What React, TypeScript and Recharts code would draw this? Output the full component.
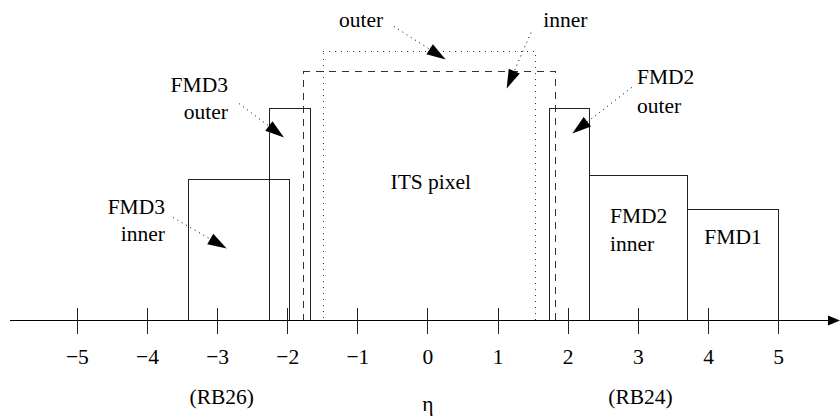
import React from "react"
import { ComposedChart, XAxis, YAxis, ReferenceArea, ReferenceLine, ReferenceDot } from "recharts"

// pseudorapidity ticks
const TICKS = [-5, -4, -3, -2, -1, 0, 1, 2, 3, 4, 5]

// detector acceptance in eta; LEVEL is only the drawing height of each box
const DETECTORS = ["FMD3 inner", "FMD3 outer", "ITS outer", "ITS inner", "FMD2 outer", "FMD2 inner", "FMD1"]
const ETA_MIN = [-3.41, -2.26, -1.49, -1.78, 1.73, 2.31, 3.7]
const ETA_MAX = [-1.97, -1.68, 1.54, 1.825, 2.31, 3.7, 5.0]
const LEVEL = [141, 212, 269, 249, 212, 145, 111]

// annotation text, anchored in (eta, level)
const NOTE_TEXT = ["outer", "inner", "FMD3", "outer", "FMD3", "inner", "FMD2", "outer", "FMD2", "inner", "FMD1", "ITS pixel", "(RB26)", "η", "(RB24)"]
const NOTE_ETA = [-0.955, 1.96, -2.852, -2.852, -3.75, -3.75, 2.98, 2.98, 2.595, 2.595, 4.35, 0.04, -2.94, 0, 3.03]
const NOTE_LEVEL = [294, 294, 229, 202, 107, 80, 237, 208, 98, 70, 77, 132, -83, -90, -83]

// dotted pointer arrows
const ARROW_FROM_ETA = [-0.485, 1.469, -2.695, -3.636, 2.905]
const ARROW_FROM_LEVEL = [294, 288, 217, 103, 233]
const ARROW_TO_ETA = [0.252, 1.122, -2.053, -2.87, 2.058]
const ARROW_TO_LEVEL = [261, 232, 183, 72, 187]

const FONT = "'Liberation Serif', 'DejaVu Serif', serif"

const DASH: Record<string, string | undefined> = {
  "ITS outer": "1 5",
  "ITS inner": "7 6",
}

const ANCHOR: Record<number, "start" | "middle" | "end"> = {
  2: "end", 3: "end", 4: "end", 5: "end",
  6: "start", 7: "start", 8: "start", 9: "start",
}

function Arrow(props: any) {
  const { x1, y1, x2, y2, dotted, len = 19, half = 6 } = props
  const dx = x2 - x1
  const dy = y2 - y1
  const d = Math.hypot(dx, dy) || 1
  const ux = dx / d
  const uy = dy / d
  const bx = x2 - ux * len
  const by = y2 - uy * len
  const pts = `${x2},${y2} ${bx - uy * half},${by + ux * half} ${bx + uy * half},${by - ux * half}`
  return (
    <g>
      <line x1={x1} y1={y1} x2={bx} y2={by} stroke="#000" strokeWidth={1} strokeDasharray={dotted ? "1 4" : undefined} />
      <polygon points={pts} fill="#000" />
    </g>
  )
}

function renderTick(p: any) {
  const v = p.payload.value
  const label = v < 0 ? `\u2212${Math.abs(v)}` : `${v}`
  return (
    <g>
      <line x1={p.x} x2={p.x} y1={p.y - 13} y2={p.y + 13} stroke="#222" strokeWidth={1} shapeRendering="crispEdges" />
      <text x={p.x} y={p.y + 43} textAnchor="middle" fontFamily={FONT} fontSize={21.5} fill="#000">
        {label}
      </text>
    </g>
  )
}

export default function App() {
  const data = TICKS.map((t) => ({ eta: t }))
  return (
    <div style={{ position: "absolute", left: 0, top: 0, width: 840, height: 417, background: "#fff" }}>
      <ComposedChart width={840} height={417} data={data} margin={{ top: 20.5, right: 0, bottom: 0, left: 10 }}>
        <XAxis
          dataKey="eta"
          type="number"
          domain={[-5.96, 5.875]}
          ticks={TICKS}
          interval={0}
          height={96.5}
          axisLine={false}
          tickLine={false}
          tickSize={0}
          tickMargin={0}
          tick={renderTick}
          allowDataOverflow
        />
        <YAxis hide type="number" domain={[0, 300]} allowDataOverflow />

        {DETECTORS.map((name, i) => (
          <ReferenceArea
            key={name}
            x1={ETA_MIN[i]}
            x2={ETA_MAX[i]}
            y1={0}
            y2={LEVEL[i]}
            fill="none"
            fillOpacity={0}
            stroke={DASH[name] ? "#333" : "#222"}
            strokeWidth={1}
            strokeDasharray={DASH[name]}
            shapeRendering="crispEdges"
            ifOverflow="visible"
          />
        ))}

        <ReferenceLine
          segment={[{ x: -5.96, y: 0 }, { x: 5.875, y: 0 }]}
          ifOverflow="visible"
          shape={(p: any) => <Arrow {...p} len={12} half={5} />}
        />

        {ARROW_FROM_ETA.map((eta, i) => (
          <ReferenceLine
            key={`arrow-${i}`}
            segment={[{ x: eta, y: ARROW_FROM_LEVEL[i] }, { x: ARROW_TO_ETA[i], y: ARROW_TO_LEVEL[i] }]}
            ifOverflow="visible"
            shape={(p: any) => <Arrow {...p} dotted />}
          />
        ))}

        {NOTE_TEXT.map((t, i) => (
          <ReferenceDot
            key={`note-${i}`}
            x={NOTE_ETA[i]}
            y={NOTE_LEVEL[i]}
            r={0}
            ifOverflow="visible"
            shape={(p: any) => (
              <text
                x={p.cx}
                y={p.cy}
                textAnchor={ANCHOR[i] ?? "middle"}
                fontFamily={FONT}
                fontSize={21.5}
                fill="#000"
              >
                {t}
              </text>
            )}
          />
        ))}
      </ComposedChart>
    </div>
  )
}
